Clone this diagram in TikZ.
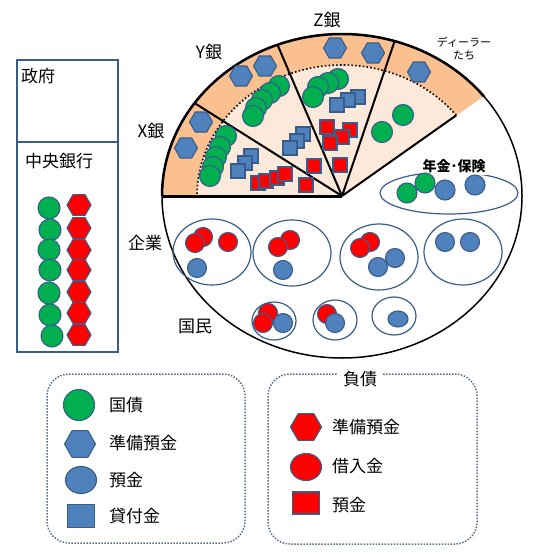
\documentclass[tikz,border=0pt]{standalone}
\usepackage{fontspec}
\setmainfont{Noto Sans CJK JP}
\usetikzlibrary{shapes.geometric}
\definecolor{cgreen}{HTML}{00B050}
\definecolor{cblue}{HTML}{4F81BD}
\definecolor{cred}{HTML}{FF0000}
\definecolor{cline}{HTML}{385D8A}
\definecolor{band}{HTML}{FAC090}
\definecolor{light}{HTML}{FDE9D9}
\definecolor{dotc}{HTML}{5A6F8C}
\begin{document}
\begin{tikzpicture}[x=1pt,y=-1pt,
  tok/.style={draw=cline, line width=1.1pt, inner sep=0pt},
  gc/.style={tok, circle, fill=cgreen, minimum size=21pt},
  bc/.style={tok, circle, fill=cblue, minimum size=19pt},
  rc/.style={tok, circle, fill=cred, minimum size=19pt},
  bh/.style={tok, regular polygon, regular polygon sides=6, fill=cblue, minimum size=23pt},
  rh/.style={tok, regular polygon, regular polygon sides=6, fill=cred, minimum size=24pt},
  bs/.style={tok, rectangle, fill=cblue, minimum size=14pt},
  rs/.style={tok, rectangle, fill=cred, minimum size=14pt},
  lbl/.style={font=\fontsize{17}{20}\selectfont, inner sep=0pt},
  grp/.style={draw=cline, line width=1.2pt},
  legbox/.style={draw=dotc, line width=1.5pt, dash pattern=on 1.5pt off 1.5pt, rounded corners=22pt},
  divider/.style={line width=2pt},
]
\useasboundingbox (0,0) rectangle (535,556);
\fill[white] (0,0) rectangle (535,556);

% ---- left boxes
\draw[grp, line width=1.5pt] (17,60) rectangle (118,142);
\draw[grp, line width=1.5pt] (17,142) rectangle (118,352);
\node[lbl] (gov) at (38,76) {政府};
\node[lbl] (cb) at (59,161) {中央銀行};
\foreach \y/\x [count=\i] in {208/49,230/50,250/49,270/50,293/49,315/50,336/52}
  \node[gc, minimum size=22pt] (cbg\i) at (\x,\y) {};
\foreach \y [count=\i] in {205,228,250,270,292,313,335}
  \node[rh] (cbr\i) at (79,\y) {};

% ---- pie
\coordinate (apex) at (342,196);
\fill[band] (apex) -- plot[domain=38:180,samples=90] ({342+180*cos(\x)},{196-162*sin(\x)}) -- cycle;
\fill[light] (apex) -- plot[domain=38:180,samples=90] ({342+145*cos(\x)},{196-131*sin(\x)}) -- cycle;
\draw[line width=1.6pt, dash pattern=on 1.6pt off 2.2pt] plot[domain=38:180,samples=90] ({342+145*cos(\x)},{196-131*sin(\x)});
\draw[line width=1.5pt] (apex) ellipse [x radius=180pt, y radius=162pt];
\draw[line width=2.5pt] plot[domain=38:180,samples=90] ({342+180*cos(\x)},{196-162*sin(\x)});
\coordinate (dL) at (162,196);
\coordinate (dXY) at ({342+180*cos(145)},{196-162*sin(145)});
\coordinate (dYZ) at ({342+180*cos(111)},{196-162*sin(111)});
\coordinate (dZD) at ({342+180*cos(73)},{196-162*sin(73)});
\coordinate (dR) at ({342+145*cos(38)},{196-131*sin(38)});
\draw[line width=3pt] (apex) -- (dL);
\draw[divider] (apex) -- (dXY);
\draw[divider] (apex) -- (dYZ);
\draw[divider] (apex) -- (dZD);
\draw[divider] (apex) -- (dR);

% band hexagons
\node[bh] (xh1) at (201,122) {};
\node[bh] (xh2) at (186,148) {};
\node[bh] (yh1) at (241,76) {};
\node[bh] (yh2) at (265,66) {};
\node[bh] (zh1) at (335,48) {};
\node[bh] (zh2) at (373,53) {};
\node[bh] (dh1) at (419,72) {};

% greens
\foreach \p [count=\i] in {(226,136),(220,147),(216,157),(213,167),(210,176)}
  \node[gc] (xg\i) at \p {};
\foreach \p [count=\i] in {(279,86),(270,93),(262,100),(256,108),(253,116)}
  \node[gc] (yg\i) at \p {};
\foreach \p [count=\i] in {(338,79),(328,83),(318,87),(313,97)}
  \node[gc] (zg\i) at \p {};
\node[gc] (dg1) at (403,115) {};
\node[gc] (dg2) at (382,132) {};

% blue squares
\foreach \p [count=\i] in {(251,156),(245,163),(238,171)}
  \node[bs] (xs\i) at \p {};
\foreach \p [count=\i] in {(303,134),(297,141),(290,148)}
  \node[bs] (ys\i) at \p {};
\foreach \p [count=\i] in {(358,97),(348,100),(337,105)}
  \node[bs] (zs\i) at \p {};
% red squares
\foreach \p [count=\i] in {(258,183),(266,181),(277,178),(285,174),(306,185)}
  \node[rs] (xr\i) at \p {};
\node[rs] (yr1) at (314,166) {};
\foreach \p [count=\i] in {(327,127),(350,130),(342,137),(330,143),(340,165)}
  \node[rs] (zr\i) at \p {};

% pie labels
\node[lbl] (lx) at (151,131) {X銀};
\node[lbl] (ly) at (209,52) {Y銀};
\node[lbl] (lz) at (327,20) {Z銀};
\node[font=\fontsize{11}{13}\selectfont, align=center, inner sep=0pt] (ld) at (464,49) {ディーラー\\たち};

% pension
\draw[grp] (449,193) ellipse [x radius=69pt, y radius=21pt];
\node[font=\fontsize{14}{16}\selectfont\bfseries, fill=white, inner sep=2pt] (pen) at (454,166) {年金･保険};
\node[gc, minimum size=20pt] (pg1) at (407,193) {};
\node[gc, minimum size=20pt] (pg2) at (425,183) {};
\node[bc, minimum size=20pt] (pb1) at (445,190) {};
\node[bc, minimum size=20pt] (pb2) at (475,185) {};

% companies
\node[lbl] (kig) at (145,243) {企業};
\draw[grp] (212,252) ellipse [x radius=39pt, y radius=33pt];
\node[rc] (e1r1) at (203,237) {};
\node[rc] (e1r2) at (195,243) {};
\node[rc] (e1r3) at (228,242) {};
\node[bc] (e1b1) at (197,268) {};
\draw[grp] (292,253) ellipse [x radius=39pt, y radius=33pt];
\node[rc] (e2r1) at (290,240) {};
\node[rc] (e2r2) at (278,247) {};
\node[bc] (e2b1) at (283,270) {};
\draw[grp] (379,257) ellipse [x radius=39pt, y radius=33pt];
\node[rc] (e3r1) at (370,242) {};
\node[rc] (e3r2) at (360,248) {};
\node[bc] (e3b1) at (395,258) {};
\node[bc] (e3b2) at (378,267) {};
\draw[grp] (463,252) ellipse [x radius=39pt, y radius=33pt];
\node[bc] (e4b1) at (445,242) {};
\node[bc] (e4b2) at (470,242) {};

% people
\node[lbl] (kok) at (195,326) {国民};
\draw[grp] (274,321) ellipse [x radius=22pt, y radius=19pt];
\node[rc] (p1r1) at (268,313) {};
\node[rc] (p1r2) at (263,323) {};
\node[bc] (p1b1) at (283,323) {};
\draw[grp] (335,320) ellipse [x radius=22pt, y radius=20pt];
\node[rc] (p2r1) at (327,314) {};
\node[bc] (p2b1) at (335,323) {};
\draw[grp] (394,316) ellipse [x radius=22pt, y radius=19pt];
\node[tok, ellipse, fill=cblue, minimum width=20pt, minimum height=16pt] (p3b1) at (398,319) {};

% ---- legend 1
\draw[legbox] (47,374) rectangle (245,543);
\node[tok, circle, fill=cgreen, minimum size=31pt] (lg1) at (79,405) {};
\node[lbl, anchor=west] (lt1) at (109,405) {国債};
\node[tok, regular polygon, regular polygon sides=6, fill=cblue, minimum size=31pt] (lg2) at (80,444) {};
\node[lbl, anchor=west] (lt2) at (109,443) {準備預金};
\node[tok, ellipse, fill=cblue, minimum width=31pt, minimum height=27pt] (lg3) at (81,480) {};
\node[lbl, anchor=west] (lt3) at (109,480) {預金};
\node[tok, rectangle, fill=cblue, minimum width=27pt, minimum height=23pt] (lg4) at (81,516) {};
\node[lbl, anchor=west] (lt4) at (109,516) {貸付金};

% ---- legend 2
\draw[legbox] (268,374) rectangle (477,544);
\node[lbl, fill=white, inner xsep=5pt, inner ysep=1pt] (lt0) at (360,379) {負債};
\node[tok, regular polygon, regular polygon sides=6, fill=cred, minimum size=31pt] (lr1) at (306,427) {};
\node[lbl, anchor=west] (lt5) at (332,427) {準備預金};
\node[tok, ellipse, fill=cred, minimum width=31pt, minimum height=27pt] (lr2) at (306,467) {};
\node[lbl, anchor=west] (lt6) at (332,466) {借入金};
\node[tok, rectangle, fill=cred, minimum width=27pt, minimum height=22pt] (lr3) at (306,503) {};
\node[lbl, anchor=west] (lt7) at (332,505) {預金};
\end{tikzpicture}
\end{document}
